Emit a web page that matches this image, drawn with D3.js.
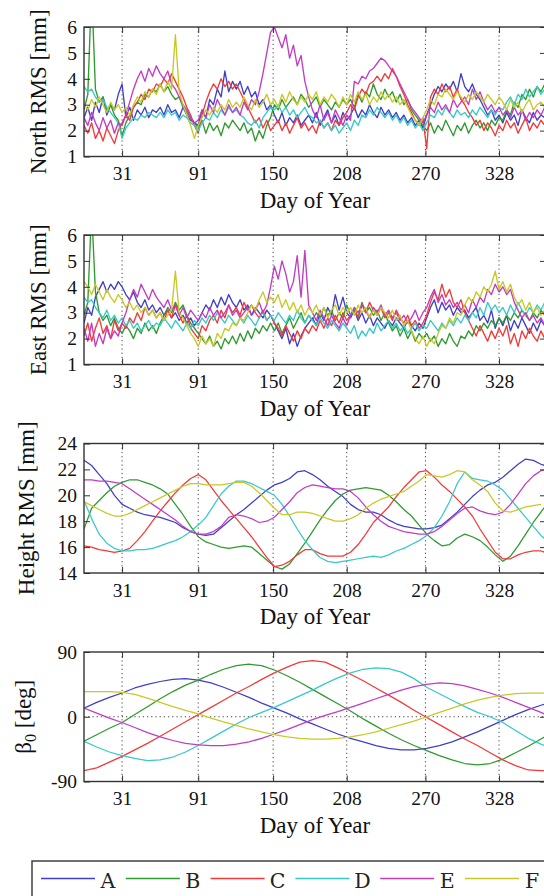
<!DOCTYPE html>
<html>
<head>
<meta charset="utf-8">
<script src="https://cdn.jsdelivr.net/npm/d3@7"></script>
<style>
  body { margin: 0; background: #fff; }
  svg { display: block; }
  .tick text { font-family: "Liberation Serif", "Times New Roman", serif; font-size: 19.5px; fill: #111; }
  .tick line { stroke: #333; stroke-width: 1; }
  .grid line { stroke: #444; stroke-width: 1; stroke-dasharray: 1.2,3; }
  .frame { fill: none; stroke: #333; stroke-width: 1.4; }
  .axis-label { font-family: "Liberation Serif", "Times New Roman", serif; font-size: 23px; fill: #111; }
  .legend text { font-family: "DejaVu Serif", serif; font-size: 20.5px; fill: #222; }
</style>
</head>
<body>
<div id="chart"></div>
<script>
const seriesNames = ["A", "B", "C", "D", "E", "F"];
const seriesColors = ["#3f3fc8", "#2f9a2f", "#f23a3a", "#38c8c8", "#c23cc2", "#c8c828"];
const xTicks = [31, 91, 150, 208, 270, 328];
const rmsTicks = [1, 2, 3, 4, 5, 6];
const heightTicks = [14, 16, 18, 20, 22, 24];
const betaTicks = [-90, 0, 90];

// sampling days of each panel
const rmsDays = d3.range(1, 365, 3);
const heightDays = d3.range(1, 368, 6);
const betaDays = d3.range(1, 362, 10).concat([365]);

// North RMS [mm]
const northA = [
  2.5, 2.9, 2.4, 3.1, 2.7, 3.3, 2.6, 3.0, 2.8, 3.4,
  3.8, 2.5, 2.9, 2.4, 2.8, 2.6, 2.9, 2.5, 2.8, 2.7,
  2.9, 2.6, 3.0, 2.7, 2.8, 2.5, 2.9, 2.6, 2.4, 2.3,
  2.2, 2.8, 2.5, 3.2, 3.0, 3.6, 3.3, 4.3, 3.5, 3.9,
  3.6, 3.9, 3.4, 3.7, 3.3, 3.5, 3.0, 3.2, 2.8, 3.0,
  2.6, 2.3, 2.7, 2.2, 2.5, 2.3, 2.6, 2.2, 2.4, 2.6,
  2.3, 2.7, 2.2, 2.5, 2.8, 2.3, 2.6, 2.2, 2.7, 2.4,
  2.6, 2.9, 2.5, 2.8, 2.6, 3.0, 2.7, 2.5, 2.9, 2.6,
  2.8, 2.5, 2.7, 2.4, 2.6, 2.3, 2.5, 2.2, 2.4, 2.1,
  2.6, 3.0, 3.4, 3.7, 3.5, 3.8, 3.6, 3.9, 3.5, 4.2,
  3.7, 3.5, 3.8, 3.4, 3.2, 2.9, 2.6, 2.8, 2.4, 2.6,
  2.3, 2.7, 2.4, 2.6, 2.2, 2.8, 2.5, 2.3, 2.7, 2.4,
  2.6, 2.5];
const northB = [
  2.8, 3.4, 7.5, 3.6, 3.1, 3.3, 2.8, 3.0, 2.6, 2.4,
  1.8, 2.3, 2.6, 2.9, 3.1, 3.0, 3.4, 3.3, 3.6, 3.5,
  3.8, 3.5, 3.7, 3.4, 3.2, 3.3, 2.9, 2.7, 2.5, 2.3,
  2.1, 2.4, 1.9, 2.3, 2.0, 2.2, 1.8, 2.3, 2.1, 2.4,
  2.2, 2.0, 2.3, 1.9, 2.1, 1.6, 2.0, 1.7, 2.2, 2.5,
  3.0, 2.8, 3.2, 2.9, 3.1, 3.3, 3.0, 3.4, 3.2, 2.9,
  3.1, 3.3, 2.9, 3.2, 3.0, 2.8, 3.1, 2.9, 3.2, 3.0,
  3.2, 2.9, 3.4, 3.1, 3.5, 3.3, 3.8, 3.4, 3.2, 3.6,
  3.3, 3.5, 3.1, 3.4, 3.0, 3.2, 2.8, 2.6, 2.4, 2.2,
  2.0, 2.3, 1.9, 2.2, 2.0, 2.4, 2.1, 1.8, 2.2, 2.0,
  2.3, 1.9, 2.2, 2.4, 2.1, 2.3, 2.0, 2.4, 2.2, 2.5,
  2.4, 2.8, 2.6, 3.1, 2.9, 3.4, 3.2, 3.6, 3.3, 3.7,
  3.5, 3.8];
const northC = [
  2.2, 1.9, 2.3, 1.7, 2.0, 1.6, 2.1, 1.8, 1.5, 2.0,
  2.3, 2.6, 2.4, 2.9, 3.1, 3.4, 3.2, 3.6, 3.5, 3.8,
  3.7, 4.0, 3.8, 4.2, 3.9, 3.6, 3.3, 2.9, 2.6, 2.2,
  1.9, 2.6, 3.1, 3.5, 3.8, 3.6, 4.0, 3.7, 3.9, 3.6,
  3.8, 3.5, 3.2, 2.9, 2.6, 2.3, 2.5, 2.1, 2.4, 2.0,
  2.2, 2.4, 2.0, 2.3, 1.9, 2.2, 2.5, 2.1, 2.3, 2.0,
  2.2, 1.9, 2.4, 2.1, 2.3, 2.0, 2.4, 2.2, 2.5, 2.7,
  3.0, 2.8, 3.3, 3.6, 3.4, 3.8, 3.9, 4.1, 3.9, 4.2,
  4.0, 4.4, 4.1, 3.7, 3.4, 3.0, 2.7, 2.4, 2.2, 2.5,
  1.3, 3.3, 3.6, 3.4, 3.8, 3.5, 3.7, 3.3, 3.6, 3.2,
  3.0, 2.7, 2.5, 2.2, 2.4, 2.0, 2.3, 2.1, 1.8, 2.2,
  2.0, 2.4, 2.1, 2.3, 1.9, 2.2, 2.5, 2.0, 2.3, 2.1,
  2.4, 2.2];
const northD = [
  3.7, 3.5, 3.6, 3.3, 3.1, 3.2, 2.9, 2.7, 2.5, 2.3,
  1.7, 2.1, 2.3, 2.5, 2.4, 2.6, 2.5, 2.7, 2.6, 2.5,
  2.7, 2.5, 2.8, 2.6, 2.7, 2.4, 2.6, 2.5, 2.3, 2.2,
  2.0, 2.3, 2.5, 2.4, 2.7, 2.5, 2.8, 2.6, 2.9, 2.7,
  2.8, 2.6, 2.5, 2.3, 2.2, 2.4, 2.1, 2.5, 2.7, 2.9,
  2.8, 3.0, 2.7, 2.9, 2.6, 2.8, 2.5, 2.7, 2.9, 2.6,
  2.5, 2.3, 2.4, 2.1, 2.3, 2.0, 2.2, 1.9, 2.1, 2.3,
  2.0, 2.4, 2.2, 2.6, 2.5, 2.8, 2.6, 2.9, 2.7, 2.5,
  2.7, 2.4, 2.6, 2.3, 2.5, 2.2, 2.4, 2.1, 2.3, 2.0,
  2.3, 2.6, 2.5, 2.8, 2.6, 2.9, 2.7, 2.5, 2.8, 2.6,
  2.7, 2.5, 2.8, 2.6, 2.9, 2.7, 2.5, 2.8, 2.6, 2.9,
  2.8, 3.1, 3.3, 3.0, 3.4, 3.2, 3.6, 3.3, 3.5, 3.7,
  3.4, 3.6];
const northE = [
  2.5, 2.2, 2.7, 2.3, 2.0, 2.5, 2.1, 2.4, 1.9, 2.3,
  2.2, 2.6, 3.1, 3.6, 4.0, 4.3, 3.9, 4.4, 4.1, 4.5,
  4.2, 4.0, 4.3, 3.8, 3.6, 3.3, 3.0, 2.8, 2.5, 2.3,
  2.4, 2.8, 2.5, 3.0, 2.7, 3.2, 2.9, 2.6, 3.0, 2.7,
  2.9, 2.6, 3.1, 2.8, 3.2, 3.0, 3.5, 4.2, 5.0, 5.8,
  6.0, 5.6, 5.2, 5.7, 4.8, 5.3, 4.5, 4.9, 3.9, 3.3,
  2.8, 2.5, 3.0, 2.4, 2.7, 2.3, 2.8, 2.5, 2.2, 2.6,
  2.4, 3.9, 3.8, 4.1, 4.0, 4.3, 4.4, 4.6, 4.8, 4.7,
  4.5, 4.3, 4.1, 3.8, 3.5, 3.2, 2.9, 2.7, 2.5, 2.3,
  2.6, 2.9, 2.7, 3.1, 2.8, 3.0, 2.7, 3.2, 2.9, 3.1,
  3.3, 3.0, 3.6, 3.2, 3.5, 3.1, 2.8, 3.0, 2.7, 2.9,
  2.6, 2.8, 2.5, 2.9, 2.6, 2.8, 2.4, 2.7, 2.5, 2.8,
  2.6, 2.9];
const northF = [
  3.0, 2.8, 3.2, 2.9, 3.3, 3.0, 2.7, 3.1, 2.8, 3.0,
  2.7, 2.9, 2.6, 3.0, 3.3, 3.1, 3.5, 3.3, 3.6, 3.4,
  3.8, 3.5, 3.9, 3.6, 5.7, 3.5, 3.0, 2.6, 2.2, 1.7,
  2.2, 2.5, 2.8, 2.6, 2.9, 2.7, 3.0, 2.8, 3.2, 2.9,
  3.1, 2.9, 3.3, 3.0, 2.8, 3.2, 2.9, 3.1, 3.4, 3.0,
  3.2, 2.9, 3.4, 3.1, 3.5, 3.2, 3.0, 3.3, 3.1, 3.4,
  3.2, 3.5, 3.0, 3.3, 3.1, 3.4, 3.2, 2.9, 3.3, 3.0,
  3.4, 3.1, 3.5, 3.2, 3.4, 3.0, 3.3, 3.1, 3.5, 3.2,
  3.4, 3.1, 3.3, 3.0, 3.2, 2.9, 2.6, 2.4, 2.2, 2.5,
  2.8, 3.2, 3.0, 3.4, 3.3, 3.6, 3.4, 3.2, 3.5, 3.3,
  3.1, 3.4, 3.2, 3.5, 3.3, 3.1, 3.4, 3.2, 3.0, 3.3,
  3.1, 2.8, 3.2, 2.9, 3.1, 2.7, 3.0, 3.2, 2.8, 3.0,
  3.1, 2.9];

// East RMS [mm]
const eastA = [
  2.6, 3.2, 2.9, 3.6, 3.9, 4.2, 3.8, 4.1, 3.9, 4.2,
  4.0, 3.7, 3.5, 3.8, 3.4, 3.2, 3.5, 3.1, 3.3, 3.0,
  3.2, 2.9, 3.1, 2.8, 3.0, 2.7, 2.9, 2.6, 2.8, 2.5,
  2.7, 3.0, 3.3, 3.1, 3.5, 3.2, 3.6, 3.3, 3.7, 3.4,
  3.2, 3.5, 3.1, 3.3, 2.9, 3.2, 3.0, 2.8, 3.1, 2.9,
  2.6, 2.3, 2.0, 2.4, 1.8, 2.2, 1.7, 2.1, 2.4, 2.6,
  2.8, 2.5, 3.0, 2.7, 3.2, 2.9, 3.7, 3.1, 3.6, 3.0,
  2.8, 3.1, 2.7, 3.0, 2.6, 2.9, 2.5, 2.8, 2.6, 2.4,
  2.7, 2.5, 2.8, 2.6, 2.4, 2.7, 2.5, 2.3, 2.6, 2.4,
  2.8, 3.2, 3.5, 3.0, 3.4, 3.1, 3.3, 2.9, 3.2, 3.0,
  3.1, 2.8, 3.0, 3.2, 2.7, 2.9, 2.6, 3.1, 2.4, 2.8,
  2.5, 2.9, 2.3, 2.7, 2.4, 2.8, 2.5, 2.2, 2.6, 2.3,
  2.7, 2.5];
const eastB = [
  2.9, 3.4, 7.0, 3.8, 3.0, 2.7, 2.9, 2.5, 2.8, 2.4,
  2.2, 2.5, 2.3, 2.0, 2.4, 2.2, 2.6, 2.3, 2.5, 2.2,
  2.6, 2.9, 3.2, 3.0, 3.4, 3.1, 3.3, 2.9, 2.6, 2.4,
  2.2, 2.0, 1.8, 2.1, 1.7, 1.9, 1.6, 2.0, 1.8, 2.1,
  1.8, 2.2, 1.9, 2.3, 2.0, 2.4, 2.2, 2.5, 2.3, 2.6,
  2.3, 2.6, 2.2, 2.5, 2.8, 2.4, 2.7, 3.0, 2.6, 2.9,
  2.7, 3.0, 2.8, 3.2, 2.9, 3.1, 2.7, 3.0, 2.8, 3.3,
  2.9, 3.1, 2.8, 3.4, 3.0, 3.2, 2.9, 3.1, 2.7, 3.0,
  2.6, 2.3, 2.5, 2.1, 2.4, 2.0, 2.3, 1.9, 2.2, 2.0,
  2.2, 1.9, 2.1, 1.7, 2.0, 1.8, 2.2, 1.9, 1.7, 2.1,
  2.0, 2.3, 2.1, 2.5, 2.3, 2.6, 2.4, 2.7, 2.5, 2.8,
  2.6, 2.9, 2.7, 3.0, 2.8, 3.1, 2.9, 2.7, 3.0, 2.8,
  3.1, 2.9];
const eastC = [
  2.1, 2.6, 1.9, 2.4, 2.8, 2.2, 2.5, 2.0, 2.7, 2.3,
  2.6, 2.4, 2.8, 2.6, 3.0, 2.7, 3.2, 2.9, 3.1, 2.8,
  3.0, 2.7, 3.1, 2.8, 3.3, 2.9, 2.6, 2.9, 2.4, 2.2,
  2.0, 2.5, 2.3, 2.7, 2.9, 2.6, 3.1, 2.8, 3.3, 3.0,
  3.2, 2.9, 3.4, 3.1, 3.3, 3.0, 2.8, 3.1, 2.7, 2.9,
  2.6, 2.4, 2.1, 2.5, 2.2, 1.9, 2.3, 2.0, 2.4, 2.2,
  2.5, 2.3, 2.7, 2.4, 2.8, 2.5, 2.9, 2.6, 3.0, 2.7,
  2.9, 3.2, 2.8, 3.3, 3.0, 3.4, 3.1, 2.9, 3.2, 2.8,
  3.0, 2.7, 3.1, 2.8, 2.6, 2.9, 2.5, 2.7, 2.4, 2.6,
  2.9, 3.4, 3.8, 3.5, 4.1, 3.6, 3.9, 3.4, 3.2, 3.5,
  3.0, 2.7, 2.4, 2.1, 2.5, 2.2, 1.9, 2.3, 2.0, 2.4,
  2.1, 2.5, 1.8, 2.2, 1.7, 2.3, 2.0, 2.4, 2.1, 1.9,
  2.3, 2.0];
const eastD = [
  3.6, 3.4, 3.5, 3.2, 3.0, 2.8, 3.1, 2.7, 2.9, 2.6,
  2.8, 2.5, 2.7, 2.4, 2.6, 2.3, 2.5, 2.7, 2.4, 2.6,
  2.5, 2.8, 2.6, 2.4, 2.7, 2.5, 2.3, 2.6, 2.4, 2.7,
  2.5, 2.8, 2.6, 2.9, 2.7, 3.0, 2.8, 2.6, 2.9, 2.7,
  2.5, 2.8, 2.6, 2.9, 2.7, 2.5, 2.8, 3.0, 2.7, 2.9,
  2.7, 3.0, 2.8, 2.6, 2.9, 2.7, 3.1, 2.8, 2.6, 2.9,
  2.7, 2.5, 2.8, 2.6, 2.4, 2.7, 2.5, 2.3, 2.6, 2.4,
  2.2, 2.5, 2.0, 2.3, 2.1, 2.4, 2.2, 2.6, 2.3, 2.5,
  2.7, 2.4, 2.6, 2.3, 2.5, 2.2, 2.4, 2.6, 2.3, 2.5,
  2.4, 2.7, 2.5, 2.3, 2.6, 2.4, 2.7, 2.5, 2.8, 2.6,
  2.9, 2.7, 3.0, 2.8, 3.2, 2.9, 3.4, 3.1, 3.3, 3.0,
  3.2, 2.9, 3.3, 3.0, 3.4, 3.1, 2.9, 3.2, 3.0, 3.3,
  3.1, 3.4];
const eastE = [
  2.4, 1.9, 2.6, 1.7, 2.2, 1.8, 2.4, 2.0, 2.3, 2.1,
  2.6, 3.0, 3.5, 3.9, 3.6, 4.1, 3.8, 3.5, 3.9, 3.6,
  3.4, 3.2, 3.5, 3.1, 3.3, 2.9, 3.2, 2.8, 3.1, 2.9,
  2.7, 3.0, 2.8, 3.2, 2.9, 3.1, 2.8, 3.0, 3.3, 2.9,
  3.1, 2.8, 3.0, 3.2, 2.9, 3.1, 3.4, 3.0, 3.3, 4.0,
  4.8, 4.3, 5.0, 4.5, 3.8, 4.2, 5.2, 3.6, 5.4, 3.3,
  3.0, 2.7, 3.1, 2.8, 2.5, 2.9, 2.6, 2.4, 2.8, 2.5,
  2.9, 3.2, 3.0, 3.3, 3.1, 2.8, 3.2, 3.0, 3.3, 2.9,
  3.1, 2.8, 3.0, 2.7, 2.9, 2.6, 2.8, 3.1, 2.7, 3.0,
  3.2, 3.6, 3.9, 3.4, 3.7, 3.3, 3.5, 3.2, 3.4, 3.1,
  3.3, 3.0, 3.5, 3.2, 3.6, 3.4, 3.9, 3.7, 4.1, 3.8,
  4.0, 3.7, 3.9, 3.4, 3.1, 2.8, 3.0, 2.7, 2.9, 2.6,
  2.8, 2.5];
const eastF = [
  4.2, 4.0, 3.7, 4.1, 3.8, 3.5, 3.9, 3.6, 3.4, 3.7,
  3.5, 3.2, 3.4, 3.1, 3.3, 3.0, 3.2, 2.9, 3.1, 2.8,
  3.0, 2.7, 2.9, 3.1, 4.6, 3.0, 2.8, 2.5, 2.2, 2.0,
  1.7, 2.1, 1.8, 2.0, 1.7, 2.2, 2.0, 2.4, 2.3, 2.6,
  2.5, 2.8, 2.7, 3.0, 3.3, 3.1, 3.5, 3.8, 3.4, 3.6,
  3.4, 3.7, 3.2, 3.5, 3.1, 3.4, 3.0, 3.3, 2.9, 3.2,
  3.0, 3.3, 2.9, 3.2, 2.8, 3.1, 3.3, 2.9, 3.2, 3.0,
  3.2, 2.9, 3.3, 3.0, 3.2, 2.8, 3.1, 2.9, 3.2, 3.0,
  2.8, 3.1, 2.7, 2.9, 2.5, 2.7, 2.3, 2.0, 1.8, 2.1,
  1.7, 2.0, 1.8, 2.2, 2.5, 2.4, 2.8, 2.6, 3.0, 2.9,
  3.3, 3.6, 3.4, 3.8, 3.6, 4.0, 3.8, 4.1, 4.6, 3.9,
  4.2, 3.8, 4.1, 3.6, 3.3, 3.5, 3.1, 3.4, 3.0, 3.2,
  2.9, 3.1];

// Height RMS [mm]
const heightA = [
  22.7, 22.3, 21.6, 20.9, 20.0, 19.3, 19.0, 18.7, 18.5, 18.4,
  18.3, 18.1, 17.9, 17.5, 17.2, 17.0, 16.9, 17.0, 17.5, 18.0,
  18.5, 18.9, 19.4, 19.9, 20.4, 20.8, 21.0, 21.3, 21.8, 21.9,
  21.6, 21.2, 20.7, 20.3, 19.9, 19.3, 18.9, 18.7, 18.7, 18.5,
  18.1, 17.8, 17.6, 17.5, 17.4, 17.4, 17.5, 17.7, 18.2, 18.7,
  19.3, 19.9, 20.4, 20.8, 21.0, 21.4, 21.9, 22.4, 22.8, 22.7,
  22.4, 22.2];
const heightB = [
  17.4, 19.0, 19.6, 20.2, 20.7, 21.0, 21.2, 21.2, 21.0, 20.8,
  20.5, 20.1, 19.3, 18.5, 17.6, 16.8, 16.4, 16.2, 16.0, 15.9,
  16.0, 16.1, 16.0, 15.5, 15.0, 14.5, 14.3, 14.7, 15.5, 16.3,
  17.2, 18.1, 18.9, 19.6, 20.1, 20.4, 20.5, 20.6, 20.5, 20.4,
  20.0, 19.5, 18.9, 18.4, 17.7, 17.0, 16.5, 16.1, 16.2, 16.7,
  17.0, 16.8, 16.5, 16.0, 15.4, 14.9, 15.3, 16.1, 17.0, 17.9,
  18.7, 19.5];
const heightC = [
  16.1, 16.0, 15.8, 15.7, 15.6, 15.7, 15.9, 16.5, 17.2, 18.0,
  18.8, 19.5, 20.2, 20.8, 21.3, 21.6, 21.2, 20.4, 19.6, 18.9,
  18.2, 17.5, 16.8, 16.0, 15.2, 14.5, 14.6, 14.9, 15.4, 15.8,
  15.8, 15.5, 15.3, 15.3, 15.3, 15.6, 16.2, 17.0, 17.9, 18.5,
  19.1, 19.9, 20.6, 21.2, 21.8, 21.9, 21.4, 20.8, 20.3, 19.7,
  19.1, 18.4, 17.4, 16.5, 15.6, 15.1, 15.1, 15.4, 15.6, 15.7,
  15.7, 15.5];
const heightD = [
  19.6, 18.2, 17.0, 16.3, 15.9, 15.7, 15.7, 15.8, 15.8, 15.9,
  16.1, 16.3, 16.5, 16.8, 17.2, 17.7, 18.3, 19.2, 20.1, 20.7,
  21.1, 21.1, 20.9, 20.6, 20.3, 20.0, 19.3, 18.4, 17.4, 16.5,
  15.8, 15.2, 14.9, 14.8, 14.9, 15.0, 15.1, 15.2, 15.3, 15.2,
  15.4, 15.7, 15.9, 16.2, 16.5, 16.9, 17.5, 18.4, 19.5, 20.9,
  21.8, 21.3, 21.2, 21.1, 20.8, 20.4, 19.7, 19.0, 18.3, 17.6,
  16.9, 16.4];
const heightE = [
  21.2, 21.2, 21.1, 21.1, 21.0, 20.9, 20.5, 20.1, 19.7, 19.3,
  18.9, 18.5, 18.1, 17.6, 17.2, 17.0, 17.0, 17.2, 17.6, 18.3,
  18.5, 18.4, 18.2, 17.9, 18.0, 18.3, 18.9, 19.5, 20.2, 20.6,
  20.8, 20.7, 20.6, 20.5, 20.5, 20.3, 19.8, 19.1, 18.5, 18.0,
  17.6, 17.4, 17.2, 17.1, 17.0, 17.0, 17.2, 17.6, 18.1, 18.6,
  19.0, 19.1, 18.8, 18.6, 18.5, 18.7, 19.3, 20.1, 20.9, 21.5,
  21.9, 22.0];
const heightF = [
  19.5, 19.2, 18.9, 18.6, 18.4, 18.4, 18.6, 18.9, 19.2, 19.5,
  19.8, 20.1, 20.4, 20.7, 20.9, 20.9, 20.8, 20.8, 20.8, 20.9,
  21.0, 21.0, 20.7, 20.2, 19.6, 19.0, 18.5, 18.5, 18.7, 18.7,
  18.6, 18.4, 18.2, 18.0, 18.0, 18.2, 18.5, 19.0, 19.4, 19.7,
  19.9, 20.1, 20.3, 20.7, 21.1, 21.6, 21.5, 21.4, 21.6, 21.9,
  21.8, 21.2, 20.8, 20.3, 19.4, 18.8, 18.7, 18.9, 19.1, 19.2,
  19.3, null];

// beta_0 [deg]
const betaA = [12, 20, 27, 33, 40, 45, 49, 52, 53, 51, 47, 41, 34, 27, 19, 12, 5, -3, -10, -17,
  -24, -30, -35, -40, -44, -46, -46, -44, -40, -35, -28, -21, -13, -5, 3, 10, 16, 18];
const betaB = [-34, -25, -16, -8, 3, 14, 25, 35, 44, 51, 59, 66, 71, 73, 71, 65, 57, 48, 38, 28,
  18, 8, -3, -13, -23, -32, -40, -47, -54, -60, -65, -67, -65, -59, -50, -41, -31, -27];
const betaC = [-75, -71, -63, -55, -46, -37, -27, -17, -7, 3, 13, 23, 33, 42, 52, 61, 69, 76, 78, 76,
  68, 59, 50, 40, 30, 20, 9, -1, -11, -21, -31, -40, -50, -60, -68, -74, -75, -75];
const betaD = [-34, -42, -49, -54, -58, -61, -60, -56, -49, -40, -30, -20, -10, -1, 6, 13, 21, 29, 37, 46,
  54, 61, 66, 68, 67, 62, 53, 41, 32, 23, 14, 6, 0, -8, -19, -30, -38, -41];
const betaE = [12, 5, -2, -8, -15, -22, -28, -33, -37, -39, -40, -40, -38, -35, -30, -24, -18, -11, -4, 2,
  7, 13, 19, 25, 31, 37, 42, 45, 47, 46, 43, 38, 33, 27, 20, 13, 6, 3];
const betaF = [35, 35, 35, 34, 31, 26, 20, 14, 9, 4, -2, -7, -12, -17, -21, -25, -28, -30, -31, -31,
  -30, -28, -25, -21, -16, -11, -6, 0, 6, 12, 18, 23, 27, 30, 32, 33, 33, 33];

const width = 544, height = 896;
const left = 84, right = 546, panelH = 129.5;

const svg = d3.select("#chart").append("svg")
    .attr("width", width)
    .attr("height", height);

const x = d3.scaleLinear().domain([1, 365]).range([left, right]);

const panels = [
    {id: "north", top: 27, domain: [1, 6], ticks: rmsTicks, days: rmsDays, lw: 1.35,
     series: [northA, northB, northC, northD, northE, northF], label: "North RMS [mm]", labelX: 46},
    {id: "east", top: 235, domain: [1, 6], ticks: rmsTicks, days: rmsDays, lw: 1.35,
     series: [eastA, eastB, eastC, eastD, eastE, eastF], label: "East RMS [mm]", labelX: 46},
    {id: "height", top: 443.5, domain: [14, 24], ticks: heightTicks, days: heightDays, lw: 1.25,
     series: [heightA, heightB, heightC, heightD, heightE, heightF], label: "Height RMS [mm]", labelX: 34},
    {id: "beta", top: 652, domain: [-90, 90], ticks: betaTicks, days: betaDays, lw: 1.25,
     series: [betaA, betaB, betaC, betaD, betaE, betaF], label: null, labelX: 31, yGrid: true}
];

panels.forEach(p => {
    const bottom = p.top + panelH;
    const y = d3.scaleLinear().domain(p.domain).range([bottom, p.top]);
    const g = svg.append("g").attr("class", "panel-" + p.id);

    svg.append("clipPath").attr("id", "clip-" + p.id)
        .append("rect")
        .attr("x", left).attr("y", p.top)
        .attr("width", right - left).attr("height", panelH);

    // dotted grid
    const grid = g.append("g").attr("class", "grid");
    grid.selectAll("line.vx")
        .data(xTicks)
        .join("line")
        .attr("x1", d => x(d)).attr("x2", d => x(d))
        .attr("y1", p.top).attr("y2", bottom);
    if (p.yGrid) {
        grid.selectAll("line.hy")
            .data(p.ticks.filter(t => t !== p.domain[0] && t !== p.domain[1]))
            .join("line")
            .attr("x1", left).attr("x2", right)
            .attr("y1", d => y(d)).attr("y2", d => y(d));
    }

    const line = d3.line()
        .defined(d => d[1] != null)
        .x(d => x(d[0]))
        .y(d => y(d[1]));

    g.append("g")
        .attr("clip-path", "url(#clip-" + p.id + ")")
        .selectAll("path")
        .data(p.series)
        .join("path")
        .attr("fill", "none")
        .attr("stroke", (d, i) => seriesColors[i])
        .attr("stroke-width", p.lw)
        .attr("stroke-linejoin", "round")
        .attr("d", vals => line(vals.map((v, i) => [p.days[i], v])));

    // axes, ticks pointing inwards on all four sides
    const axes = [
        g.append("g").attr("transform", `translate(0,${bottom})`)
            .call(d3.axisBottom(x).tickValues(xTicks).tickSize(-6).tickPadding(10)),
        g.append("g").attr("transform", `translate(0,${p.top})`)
            .call(d3.axisTop(x).tickValues(xTicks).tickSize(-6).tickFormat("")),
        g.append("g").attr("transform", `translate(${left},0)`)
            .call(d3.axisLeft(y).tickValues(p.ticks).tickSize(-6).tickPadding(7).tickFormat(d => String(d))),
        g.append("g").attr("transform", `translate(${right},0)`)
            .call(d3.axisRight(y).tickValues(p.ticks).tickSize(-6).tickFormat(""))
    ];
    axes.forEach(a => {
        a.select(".domain").remove();
        a.attr("font-family", null).attr("font-size", null);
    });

    g.append("rect")
        .attr("class", "frame")
        .attr("x", left).attr("y", p.top)
        .attr("width", right - left).attr("height", panelH);

    g.append("text")
        .attr("class", "axis-label")
        .attr("x", (left + right) / 2)
        .attr("y", bottom + 51)
        .attr("text-anchor", "middle")
        .text("Day of Year");

    const yl = g.append("text")
        .attr("class", "axis-label")
        .attr("text-anchor", "middle")
        .attr("transform", `translate(${p.labelX},${p.top + panelH / 2}) rotate(-90)`);
    if (p.label) {
        yl.text(p.label);
    } else {
        yl.append("tspan").text("β");
        yl.append("tspan").attr("dy", 5).attr("font-size", "16px").text("0");
        yl.append("tspan").attr("dy", -5).text(" [deg]");
    }
});

// legend
const legend = svg.append("g").attr("class", "legend");
legend.append("rect")
    .attr("class", "frame")
    .attr("x", 32).attr("y", 861)
    .attr("width", 530).attr("height", 50);

const entries = legend.selectAll("g.entry")
    .data(seriesNames)
    .join("g")
    .attr("class", "entry")
    .attr("transform", (d, i) => `translate(${41 + i * 84.8},0)`);

entries.append("line")
    .attr("x1", 0).attr("x2", 54)
    .attr("y1", 878.5).attr("y2", 878.5)
    .attr("stroke", (d, i) => seriesColors[i])
    .attr("stroke-width", 1.6);

entries.append("text")
    .attr("x", 67).attr("y", 887.5)
    .attr("text-anchor", "middle")
    .text(d => d);
</script>
</body>
</html>
